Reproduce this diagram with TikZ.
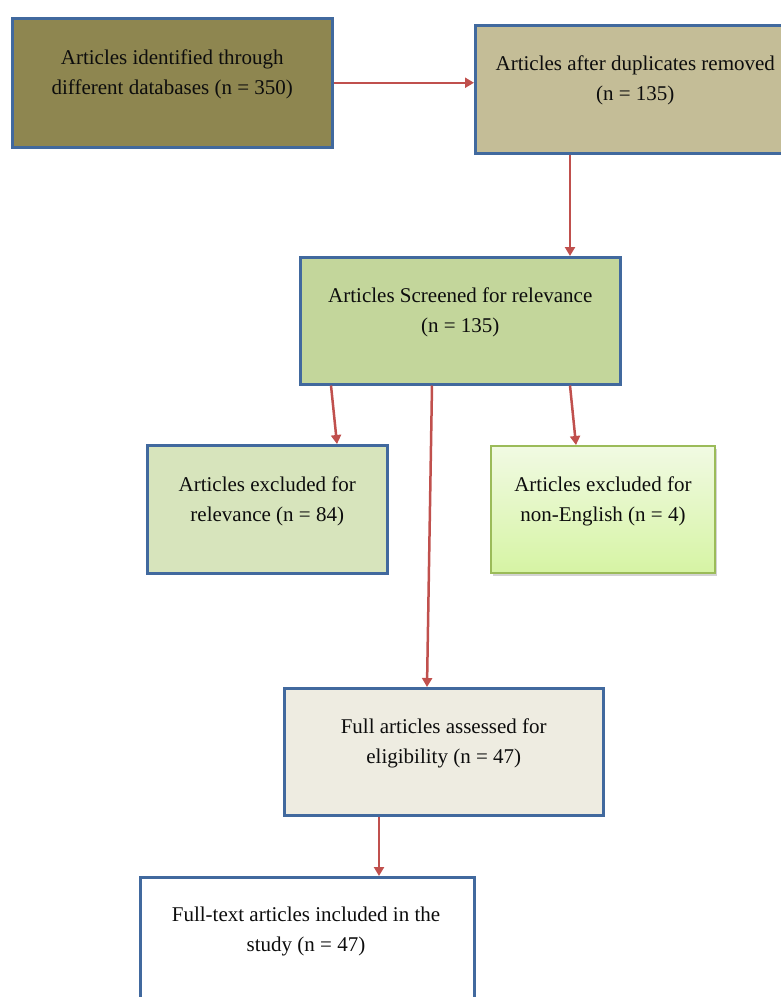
\documentclass[tikz,border=0pt]{standalone}
\usepackage{fontspec}
\setmainfont{Liberation Serif}
\usetikzlibrary{arrows.meta,calc,shadows}
\definecolor{bordblue}{HTML}{41699E}
\definecolor{arrred}{HTML}{C0504D}
\definecolor{fillA}{HTML}{8E8650}
\definecolor{fillB}{HTML}{C4BD97}
\definecolor{fillC}{HTML}{C3D69B}
\definecolor{fillD}{HTML}{D7E4BC}
\definecolor{fillF}{HTML}{EEECE1}
\definecolor{greenbord}{HTML}{9BBB59}
\definecolor{gtop}{HTML}{F1FAE3}
\definecolor{gbot}{HTML}{D6F4A4}
\tikzset{
  box/.style={draw=bordblue, line width=2.5pt, rectangle, inner sep=0pt, anchor=north west},
  txt/.style={align=center, font=\fontsize{21}{30}\selectfont, text=black!95, inner sep=0pt},
  arr/.style={draw=arrred, line width=2.5pt, -{Triangle[length=9pt,width=10pt]}}
}
\begin{document}
\begin{tikzpicture}[x=1pt,y=-1pt]
\useasboundingbox (0,0) rectangle (781,997);
\begin{scope}
\clip (0,0) rectangle (781,997);
% boxes
\node[box, fill=fillA, minimum width=320pt, minimum height=129pt] (b1) at (11,17) {};
\node[box, fill=fillB, minimum width=320pt, minimum height=128pt] (b2) at (474,24) {};
\node[box, fill=fillC, minimum width=320pt, minimum height=127pt] (b3) at (299,256) {};
\node[box, fill=fillD, minimum width=240pt, minimum height=128pt] (b4) at (146,444) {};
\node[box, draw=greenbord, line width=1.8pt, top color=gtop, bottom color=gbot,
      drop shadow={shadow xshift=2pt, shadow yshift=-3pt, opacity=0.35},
      minimum width=224pt, minimum height=127pt] (b5) at (490,445) {};
\node[box, fill=fillF, minimum width=319pt, minimum height=127pt] (b6) at (283,687) {};
\node[box, fill=white, minimum width=334pt, minimum height=140pt] (b7) at (139,876) {};
% texts
\node[txt] (t1) at ([yshift=8.5pt]b1.center) {Articles identified through\\different databases (n = 350)};
\node[txt] (t2) at ([yshift=9pt]b2.center) {Articles after duplicates removed\\(n = 135)};
\node[txt] (t3) at ([yshift=8.5pt]b3.center) {Articles Screened for relevance\\(n = 135)};
\node[txt] (t4) at ([yshift=8pt]b4.center) {Articles excluded for\\relevance (n = 84)};
\node[txt] (t5) at ([yshift=8.5pt]b5.center) {Articles excluded for\\non-English (n = 4)};
\node[txt] (t6) at ([yshift=8pt]b6.center) {Full articles assessed for\\eligibility (n = 47)};
\node[txt] (t7) at (306,931) {Full-text articles included in the\\study (n = 47)};
% arrows
\draw[arr] (b1.east) -- (b1.east -| b2.west);
\draw[arr] ($(b2.south west)+(96,0)$) -- ($(b3.north west)+(271,0)$);
\draw[arr] ($(b3.south west)+(32,0)$) -- ($(b4.north west)+(191,0)$);
\draw[arr] ($(b3.south west)+(271,0)$) -- ($(b5.north west)+(86,0)$);
\draw[arr] ($(b3.south west)+(133,0)$) -- ($(b6.north west)+(144,0)$);
\draw[arr] ($(b6.south west)+(96,0)$) -- ($(b7.north west)+(240,0)$);
\end{scope}
\end{tikzpicture}
\end{document}
